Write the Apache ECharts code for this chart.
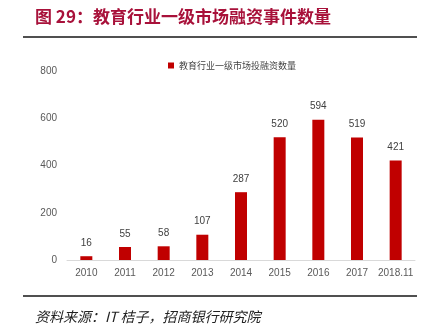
<!DOCTYPE html>
<html>
<head>
<meta charset="utf-8">
<script src="https://cdn.jsdelivr.net/npm/echarts@6/dist/echarts.min.js"></script>
<style>
html,body{margin:0;padding:0;background:#fff;}
#chart{width:429px;height:326px;}
</style>
</head>
<body>
<div id="chart"></div>
<script>
// 教育行业一级市场投融资事件数量
const categories = ['2010', '2011', '2012', '2013', '2014', '2015', '2016', '2017', '2018.11'];
const dealCounts = [16, 55, 58, 107, 287, 520, 594, 519, 421];
const yTicks = [0, 200, 400, 600, 800];
const seriesName = '教育行业一级市场投融资数量';
const titleText = '图 29：教育行业一级市场融资事件数量';
const sourceText = '资料来源：IT 桔子，招商银行研究院';

const chart = echarts.init(document.getElementById('chart'), null, { renderer: 'canvas' });

chart.setOption({
  animation: false,
  backgroundColor: '#ffffff',
  legend: {
    top: 56,
    left: 163,
    itemWidth: 6,
    itemHeight: 6,
    itemGap: 4,
    icon: 'rect',
    textStyle: { fontSize: 9, color: '#444', fontFamily: 'Noto Sans CJK SC' },
    data: [seriesName]
  },
  grid: { left: 67, right: 14, top: 71, bottom: 66, containLabel: false },
  xAxis: {
    type: 'category',
    data: categories,
    axisLine: { lineStyle: { color: '#d9d9d9', width: 1 } },
    axisTick: { show: false },
    axisLabel: { color: '#595959', fontSize: 10, margin: 8, interval: 0, fontFamily: 'Liberation Sans' }
  },
  yAxis: {
    type: 'value',
    min: yTicks[0],
    max: yTicks[yTicks.length - 1],
    interval: yTicks[1] - yTicks[0],
    axisLine: { show: false },
    axisTick: { show: false },
    splitLine: { show: false },
    axisLabel: { color: '#595959', fontSize: 10, margin: 10, fontFamily: 'Liberation Sans' }
  },
  series: [{
    name: seriesName,
    type: 'bar',
    data: dealCounts,
    barWidth: 12,
    itemStyle: { color: '#c00000' },
    label: {
      show: true,
      position: 'top',
      distance: 8,
      color: '#404040',
      fontSize: 10,
      fontFamily: 'Liberation Sans'
    }
  }],
  graphic: [
    {
      type: 'text',
      left: 35,
      top: 8,
      style: {
        text: titleText,
        fill: '#a8113a',
        font: 'bold 17px "Noto Sans CJK SC", "Liberation Serif", serif'
      }
    },
    {
      type: 'rect',
      shape: { x: 23, y: 36, width: 394, height: 2 },
      style: { fill: '#505050' }
    },
    {
      type: 'rect',
      shape: { x: 23, y: 295, width: 394, height: 2 },
      style: { fill: '#505050' }
    },
    {
      type: 'text',
      left: 35,
      top: 310,
      style: {
        text: sourceText,
        fill: '#222',
        font: 'italic 14px "Noto Sans CJK SC", "Liberation Serif", serif'
      }
    }
  ]
});
</script>
</body>
</html>
